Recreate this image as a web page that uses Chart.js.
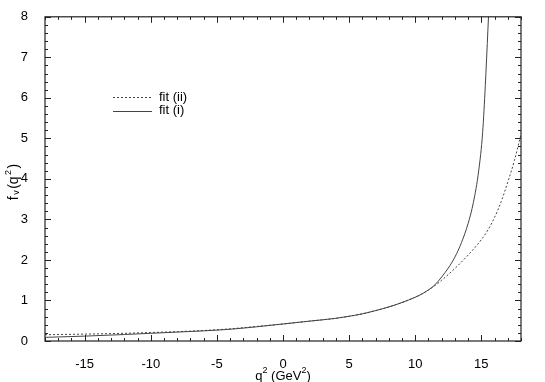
<!DOCTYPE html>
<html>
<head>
<meta charset="utf-8">
<script src="https://cdn.jsdelivr.net/npm/chart.js@4.4.1/dist/chart.umd.min.js"></script>
<style>
  html, body { margin: 0; padding: 0; background: #fff; }
  #wrap { width: 545px; height: 382px; }
</style>
</head>
<body>
<div id="wrap"><canvas id="chartFV"></canvas></div>
<script>
// f_V(q^2) para los dos ajustes

// ajuste (i) - línea continua
const q2FitI = [-18, -15, -12, -10, -8, -6, -4, -2, 0, 2, 4, 5, 6, 7, 8, 9, 10, 10.5, 11,
                11.5, 12, 12.5, 13, 13.5, 14, 14.4, 14.8, 15.1, 15.3, 15.5, 15.65];
const fvFitI = [0.09, 0.12, 0.16, 0.19, 0.22, 0.25, 0.29, 0.35, 0.42, 0.49, 0.56, 0.61, 0.67, 0.75, 0.84, 0.95, 1.08, 1.16, 1.26,
                1.39, 1.58, 1.8, 2.07, 2.43, 2.9, 3.42, 4.2, 5.15, 6.3, 7.7, 8.8];

// ajuste (ii) - línea discontinua
const q2FitII = [-18, -15, -12, -10, -8, -6, -4, -2, 0, 2, 4, 5, 6, 7, 8, 9, 10, 10.5, 11,
                 11.5, 12, 12.5, 13, 13.5, 14, 14.5, 15, 15.5, 16, 16.5, 17, 17.5, 18];
const fvFitII = [0.155, 0.17, 0.19, 0.21, 0.23, 0.26, 0.3, 0.36, 0.42, 0.49, 0.56, 0.61, 0.67, 0.75, 0.84, 0.95, 1.08, 1.16, 1.26,
                 1.37, 1.5, 1.64, 1.79, 1.95, 2.12, 2.3, 2.5, 2.74, 3.05, 3.44, 3.92, 4.45, 5.1];

const xTicks = [-15, -10, -5, 0, 5, 10, 15];
const yTicks = [0, 1, 2, 3, 4, 5, 6, 7, 8];

const FONT = "'Liberation Sans', Arial, sans-serif";
const LINE_COLOR = '#444';

function toPoints(xs, ys) {
    return xs.map((x, i) => ({ x: x, y: ys[i] }));
}

// Marco, marcas interiores, leyenda y títulos de ejes
const framePlugin = {
    id: 'frame',
    afterDraw(chart) {
        const { ctx, chartArea: a, scales } = chart;
        const sx = scales.x, sy = scales.y;
        ctx.save();
        ctx.strokeStyle = '#222';
        ctx.lineWidth = 1.2;
        ctx.strokeRect(a.left, a.top, a.right - a.left, a.bottom - a.top);

        ctx.lineWidth = 1;
        ctx.beginPath();
        for (let v = -18; v <= 18; v++) {
            const len = v % 5 === 0 ? 6 : 3;
            const px = Math.round(sx.getPixelForValue(v)) + 0.5;
            ctx.moveTo(px, a.bottom); ctx.lineTo(px, a.bottom - len);
            ctx.moveTo(px, a.top); ctx.lineTo(px, a.top + len);
        }
        for (let k = 0; k <= 40; k++) {
            const v = k / 5;
            const len = k % 5 === 0 ? 6 : 3;
            const py = Math.round(sy.getPixelForValue(v)) + 0.5;
            ctx.moveTo(a.left, py); ctx.lineTo(a.left + len, py);
            ctx.moveTo(a.right, py); ctx.lineTo(a.right - len, py);
        }
        ctx.stroke();

        // leyenda
        ctx.strokeStyle = LINE_COLOR;
        ctx.lineWidth = 1;
        ctx.setLineDash([2, 2]);
        ctx.beginPath(); ctx.moveTo(113, 97.5); ctx.lineTo(152, 97.5); ctx.stroke();
        ctx.setLineDash([]);
        ctx.beginPath(); ctx.moveTo(113, 111.5); ctx.lineTo(152, 111.5); ctx.stroke();
        ctx.fillStyle = '#000';
        ctx.font = '13px ' + FONT;
        ctx.textBaseline = 'middle';
        ctx.textAlign = 'left';
        ctx.fillText('fit (ii)', 159, 97);
        ctx.fillText('fit (i)', 159, 110);

        // título eje x: q^2 (GeV^2)
        const big = '13px ' + FONT, small = '9px ' + FONT;
        const partsX = [['q', big, 0], ['2', small, -5], [' (GeV', big, 0], ['2', small, -5], [')', big, 0]];
        drawParts(ctx, partsX, 283, 376, 0);

        // título eje y: f_v(q^2)
        ctx.save();
        ctx.translate(14, 182);
        ctx.rotate(-Math.PI / 2);
        const bigY = '14px ' + FONT;
        const partsY = [['f', bigY, 0], ['v', small, 3], ['(q', bigY, 0], ['2', small, -5], [')', bigY, 0]];
        drawParts(ctx, partsY, 0, 0, 1.5);
        ctx.restore();
        ctx.restore();
    }
};

function drawParts(ctx, parts, cx, cy, gap) {
    let w = 0;
    parts.forEach(p => { ctx.font = p[1]; w += ctx.measureText(p[0]).width + gap; });
    w -= gap;
    let x = cx - w / 2;
    ctx.textAlign = 'left';
    ctx.textBaseline = 'middle';
    parts.forEach(p => {
        ctx.font = p[1];
        ctx.fillText(p[0], x, cy + p[2]);
        x += ctx.measureText(p[0]).width + gap;
    });
}

const ctxFV = document.getElementById('chartFV');
new Chart(ctxFV, {
    type: 'line',
    data: {
        datasets: [
            {
                label: 'fit (ii)',
                data: toPoints(q2FitII, fvFitII),
                borderColor: LINE_COLOR,
                borderWidth: 1,
                borderDash: [2, 2],
                pointRadius: 0,
                cubicInterpolationMode: 'monotone',
                fill: false
            },
            {
                label: 'fit (i)',
                data: toPoints(q2FitI, fvFitI),
                borderColor: LINE_COLOR,
                borderWidth: 1,
                pointRadius: 0,
                cubicInterpolationMode: 'monotone',
                fill: false
            }
        ]
    },
    options: {
        responsive: true,
        maintainAspectRatio: false,
        animation: false,
        layout: { padding: { left: 0, top: 16, right: 24, bottom: 0 } },
        plugins: {
            legend: { display: false },
            tooltip: { enabled: false }
        },
        scales: {
            x: {
                type: 'linear',
                min: -18,
                max: 18,
                grid: { display: false },
                border: { display: false },
                ticks: {
                    stepSize: 5,
                    padding: 8,
                    color: '#000',
                    font: { family: FONT, size: 13 }
                },
                afterBuildTicks(scale) {
                    scale.ticks = xTicks.map(v => ({ value: v }));
                },
                afterFit(scale) { scale.height = 41; }
            },
            y: {
                type: 'linear',
                min: 0,
                max: 8,
                grid: { display: false },
                border: { display: false },
                ticks: {
                    stepSize: 1,
                    padding: 9,
                    color: '#000',
                    font: { family: FONT, size: 13 }
                },
                afterBuildTicks(scale) {
                    scale.ticks = yTicks.map(v => ({ value: v }));
                },
                afterFit(scale) { scale.width = 45; }
            }
        }
    },
    plugins: [framePlugin]
});
</script>
</body>
</html>
